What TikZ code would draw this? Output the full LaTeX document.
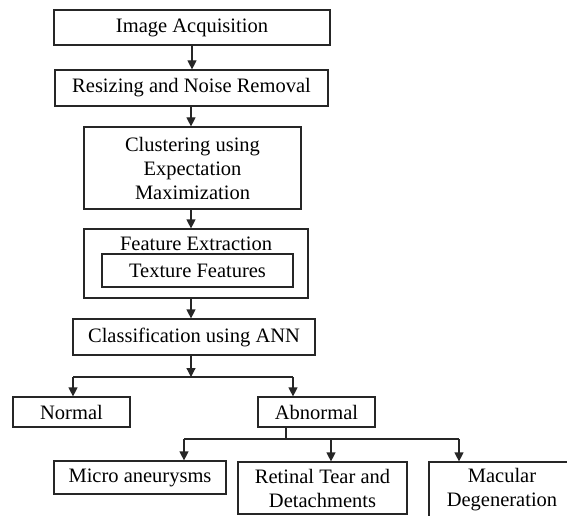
\documentclass[tikz,border=0pt]{standalone}
\usepackage{fontspec}
\setmainfont{Liberation Serif}
\usetikzlibrary{arrows.meta}
\begin{document}
\begin{tikzpicture}[x=1pt,y=-1pt,
  box/.style={draw=black!85, line width=1.2pt, inner sep=0pt, align=center,
    font=\fontsize{20.5}{24}\selectfont},
  lbl/.style={inner sep=0pt, align=center, font=\fontsize{20.5}{24}\selectfont},
  arr/.style={draw=black!85, line width=1.2pt, -{Triangle[length=9pt,width=9pt]}},
  ln/.style={draw=black!85, line width=1.2pt}]
\useasboundingbox (0,0) rectangle (567,516);
\clip (0,0) rectangle (567,516);

% boxes
\node[box, minimum width=276pt, minimum height=35pt] (acq) at (192,27.5) {Image Acquisition};
\node[box, minimum width=273pt, minimum height=36pt] (resz) at (191.5,88) {Resizing and Noise Removal};
\node[box, minimum width=217pt, minimum height=82pt] (clus) at (192.5,168) {Clustering using\\Expectation\\Maximization};
\node[box, minimum width=224pt, minimum height=69pt] (feat) at (196,263.5) {};
\node[lbl] (featlbl) at (196,244) {Feature Extraction};
\node[box, minimum width=191pt, minimum height=33pt] (tex) at (197.5,270.5) {Texture Features};
\node[box, minimum width=242pt, minimum height=36pt] (cls) at (194,337) {Classification using ANN};
\node[box, minimum width=117pt, minimum height=30pt] (normal) at (71.5,412) {Normal};
\node[box, minimum width=117pt, minimum height=30pt] (abn) at (316.5,412) {Abnormal};
\node[box, minimum width=172pt, minimum height=33pt] (micro) at (140,477.5) {Micro aneurysms};
\node[box, minimum width=169pt, minimum height=52pt] (ret) at (322.5,488) {Retinal Tear and\\Detachments};
\node[box, minimum width=146pt, minimum height=56pt] (mac) at (502,490) {Macular\\Degeneration};

% junction coordinates
\coordinate (c1) at (192,0);
\coordinate (c2) at (191,0);
\coordinate (j1) at (191,377);
\coordinate (jl) at (73,377);
\coordinate (jr) at (293,377);
\coordinate (j2) at (286,439);
\coordinate (kl) at (184,439);
\coordinate (km) at (331,439);
\coordinate (kr) at (459,439);

% connectors
\draw[arr] (c1 |- acq.south) -- (c1 |- resz.north);
\draw[arr] (c2 |- resz.south) -- (c2 |- clus.north);
\draw[arr] (c2 |- clus.south) -- (c2 |- feat.north);
\draw[arr] (c2 |- feat.south) -- (c2 |- cls.north);
\draw[arr] (c2 |- cls.south) -- (j1);
\draw[ln] (jl) -- (jr);
\draw[arr] (jl) -- (jl |- normal.north);
\draw[arr] (jr) -- (jr |- abn.north);
\draw[ln] (j2 |- abn.south) -- (j2);
\draw[ln] (kl) -- (kr);
\draw[arr] (kl) -- (kl |- micro.north);
\draw[arr] (km) -- (km |- ret.north);
\draw[arr] (kr) -- (kr |- mac.north);
\end{tikzpicture}
\end{document}
